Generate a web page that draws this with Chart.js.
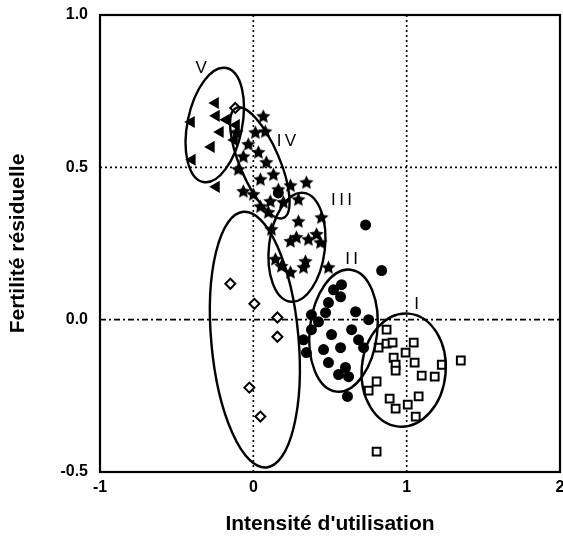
<!DOCTYPE html>
<html><head><meta charset="utf-8">
<script src="https://cdn.jsdelivr.net/npm/chart.js@4/dist/chart.umd.min.js"></script>
<style>html,body{margin:0;padding:0;background:#fff}</style>
</head><body>
<canvas id="c" width="563" height="544"></canvas>
<script>
// ---- data ----
const xTicks = [-1, 0, 1, 2];
const yTicks = [-0.5, 0, 0.5, 1.0];
const xTitle = "Intensité d'utilisation";
const yTitle = "Fertilité résiduelle";

const groupI = [[0.869,-0.033],[0.817,-0.092],[0.869,-0.079],[0.908,-0.075],[1.046,-0.075],[0.993,-0.108],[0.915,-0.125],[0.928,-0.148],[0.928,-0.167],[1.052,-0.141],[1.098,-0.184],[1.183,-0.187],[1.229,-0.148],[1.353,-0.134],[0.804,-0.203],[0.752,-0.233],[0.889,-0.259],[0.928,-0.292],[1.007,-0.279],[1.078,-0.252],[1.059,-0.318],[0.804,-0.433]];
const groupII = [[0.575,0.115],[0.569,0.075],[0.490,0.056],[0.471,0.023],[0.425,-0.007],[0.379,-0.033],[0.379,0.016],[0.667,0.026],[0.752,0.000],[0.510,-0.049],[0.641,-0.033],[0.686,-0.066],[0.719,-0.092],[0.458,-0.098],[0.569,-0.092],[0.490,-0.141],[0.556,-0.180],[0.621,-0.187],[0.601,-0.157],[0.346,-0.108],[0.732,0.311],[0.837,0.161],[0.614,-0.252],[0.523,0.098],[0.327,-0.066],[0.163,0.416]];
const groupIII = [[0.346,0.449],[0.294,0.321],[0.444,0.334],[0.359,0.262],[0.281,0.269],[0.438,0.252],[0.242,0.256],[0.144,0.197],[0.183,0.174],[0.327,0.170],[0.242,0.154],[0.490,0.170],[0.098,0.351],[0.118,0.295],[0.340,0.190],[0.412,0.279]];
const groupIV = [[-0.111,0.613],[0.013,0.613],[0.078,0.616],[0.033,0.548],[-0.065,0.534],[0.085,0.515],[0.131,0.475],[0.046,0.459],[-0.098,0.492],[-0.065,0.420],[0.000,0.410],[0.163,0.426],[0.111,0.387],[0.196,0.384],[0.294,0.393],[0.242,0.439],[0.065,0.666],[-0.033,0.574],[0.046,0.370]];
const groupV = [[-0.405,0.649],[-0.399,0.525],[-0.248,0.711],[-0.242,0.669],[-0.216,0.616],[-0.275,0.567],[-0.242,0.436],[-0.176,0.656],[-0.111,0.639],[-0.124,0.590]];
const groupOther = [[-0.150,0.118],[0.007,0.052],[0.157,0.007],[0.157,-0.056],[-0.026,-0.223],[0.046,-0.318],[-0.118,0.695]];

// ellipses: major-axis end points (data units) and minor/major ratio
const ellipseStart = [[1.013,0.020],[0.634,0.164],[0.327,0.416],[-0.111,0.695],[-0.176,0.826],[-0.065,0.354]];
const ellipseEnd   = [[0.948,-0.351],[0.542,-0.236],[0.242,0.059],[0.196,0.334],[-0.327,0.452],[0.085,-0.485]];
const ellipseRatio = [0.74,0.55,0.51,0.33,0.47,0.34];
const groupLabels = ['I','II','III','IV','V'];
const labelPos = [[1.065,0.049],[0.641,0.197],[0.575,0.393],[0.216,0.584],[-0.34,0.826]];

// ---- helpers ----
function makeStar(r){
  const s = Math.ceil(r*2+2), c = document.createElement('canvas');
  c.width = c.height = s;
  const g = c.getContext('2d');
  g.fillStyle = '#000'; g.beginPath();
  for (let i=0;i<10;i++){
    const a = -Math.PI/2 + i*Math.PI/5, rr = i%2 ? r*0.48 : r;
    g.lineTo(s/2 + rr*Math.cos(a), s/2 + rr*Math.sin(a));
  }
  g.closePath(); g.fill();
  return c;
}
const star = makeStar(7.5);
const pts = arr => arr.map(p => ({x:p[0], y:p[1]}));

const overlay = {
  id: 'overlay',
  beforeDatasetsDraw(chart){
    const {ctx, chartArea:a, scales:{x, y}} = chart;
    ctx.save();
    ctx.strokeStyle = '#000'; ctx.lineWidth = 1.6;
    xTicks.slice(1,-1).forEach(v => {
      const p = x.getPixelForValue(v);
      ctx.setLineDash([2,3]); ctx.beginPath(); ctx.moveTo(p,a.top); ctx.lineTo(p,a.bottom); ctx.stroke();
    });
    yTicks.slice(1,-1).forEach(v => {
      const p = y.getPixelForValue(v);
      ctx.setLineDash(v === 0 ? [6,3,2,3] : [2,3]);
      ctx.beginPath(); ctx.moveTo(a.left,p); ctx.lineTo(a.right,p); ctx.stroke();
    });
    ctx.restore();
  },
  afterDatasetsDraw(chart){
    const {ctx, chartArea:a, scales:{x, y}} = chart;
    ctx.save();
    ctx.strokeStyle = '#000'; ctx.lineWidth = 2.4; ctx.setLineDash([]);
    ellipseStart.forEach((s, i) => {
      const e = ellipseEnd[i];
      const x1 = x.getPixelForValue(s[0]), y1 = y.getPixelForValue(s[1]);
      const x2 = x.getPixelForValue(e[0]), y2 = y.getPixelForValue(e[1]);
      const cx = (x1+x2)/2, cy = (y1+y2)/2;
      const semi = Math.hypot(x2-x1, y2-y1)/2;
      const ang = Math.atan2(y2-y1, x2-x1);
      ctx.beginPath(); ctx.ellipse(cx, cy, semi, semi*ellipseRatio[i], ang, 0, Math.PI*2); ctx.stroke();
    });
    ctx.fillStyle = '#000';
    ctx.font = '17px "Liberation Sans", Arial, sans-serif';
    ctx.textAlign = 'center'; ctx.textBaseline = 'middle';
    groupLabels.forEach((t, i) => {
      ctx.fillText(t.split('').join('\u2009'), x.getPixelForValue(labelPos[i][0]), y.getPixelForValue(labelPos[i][1]));
    });
    ctx.lineWidth = 2.2;
    ctx.strokeRect(a.left, a.top, a.right - a.left, a.bottom - a.top);
    ctx.restore();
  }
};

const font = {family: '"Liberation Sans", Arial, sans-serif', size: 16, weight: 'bold'};
const titleFont = {family: '"Liberation Sans", Arial, sans-serif', size: 21, weight: 'bold'};

new Chart(document.getElementById('c'), {
  type: 'scatter',
  data: { datasets: [
    {label:'I', data: pts(groupI), pointStyle:'rect', radius:5.5, borderWidth:2, borderColor:'#000', backgroundColor:'#fff'},
    {label:'II', data: pts(groupII), pointStyle:'circle', radius:5.5, borderWidth:0, backgroundColor:'#000'},
    {label:'III', data: pts(groupIII), pointStyle: star},
    {label:'IV', data: pts(groupIV), pointStyle: star},
    {label:'V', data: pts(groupV), pointStyle:'triangle', rotation:-90, radius:7, borderWidth:0, backgroundColor:'#000'},
    {label:'autre', data: pts(groupOther), pointStyle:'rectRot', radius:5, borderWidth:2, borderColor:'#000', backgroundColor:'#fff'}
  ]},
  options: {
    responsive: false, animation: false, devicePixelRatio: 1,
    layout: {autoPadding: false, padding: {left: 4, top: 15, right: 3, bottom: 5}},
    plugins: {legend: {display:false}, tooltip: {enabled:false}},
    scales: {
      x: {
        type: 'linear', min: xTicks[0], max: xTicks[xTicks.length-1],
        afterBuildTicks: s => { s.ticks = xTicks.map(v => ({value: v})); },
        afterFit: s => { s.height = 67; s.paddingLeft = 0; s.paddingRight = 0; },
        grid: {display: false, drawTicks: false},
        border: {display: false},
        ticks: {color:'#000', font, padding: 6, maxRotation: 0, callback: v => String(v)},
        title: {display: true, text: xTitle, color:'#000', font: titleFont, padding: {top: 4, bottom: 2}}
      },
      y: {
        type: 'linear', min: yTicks[0], max: yTicks[yTicks.length-1],
        afterBuildTicks: s => { s.ticks = yTicks.map(v => ({value: v})); },
        afterFit: s => { s.width = 96; s.paddingTop = 0; s.paddingBottom = 0; },
        grid: {display: false, drawTicks: false},
        border: {display: false},
        ticks: {color:'#000', font, padding: 12, callback: v => Number(v).toFixed(1)},
        title: {display: true, text: yTitle, color:'#000', font: titleFont, padding: {top: 2, bottom: 4}}
      }
    }
  },
  plugins: [overlay]
});
</script>
</body></html>
